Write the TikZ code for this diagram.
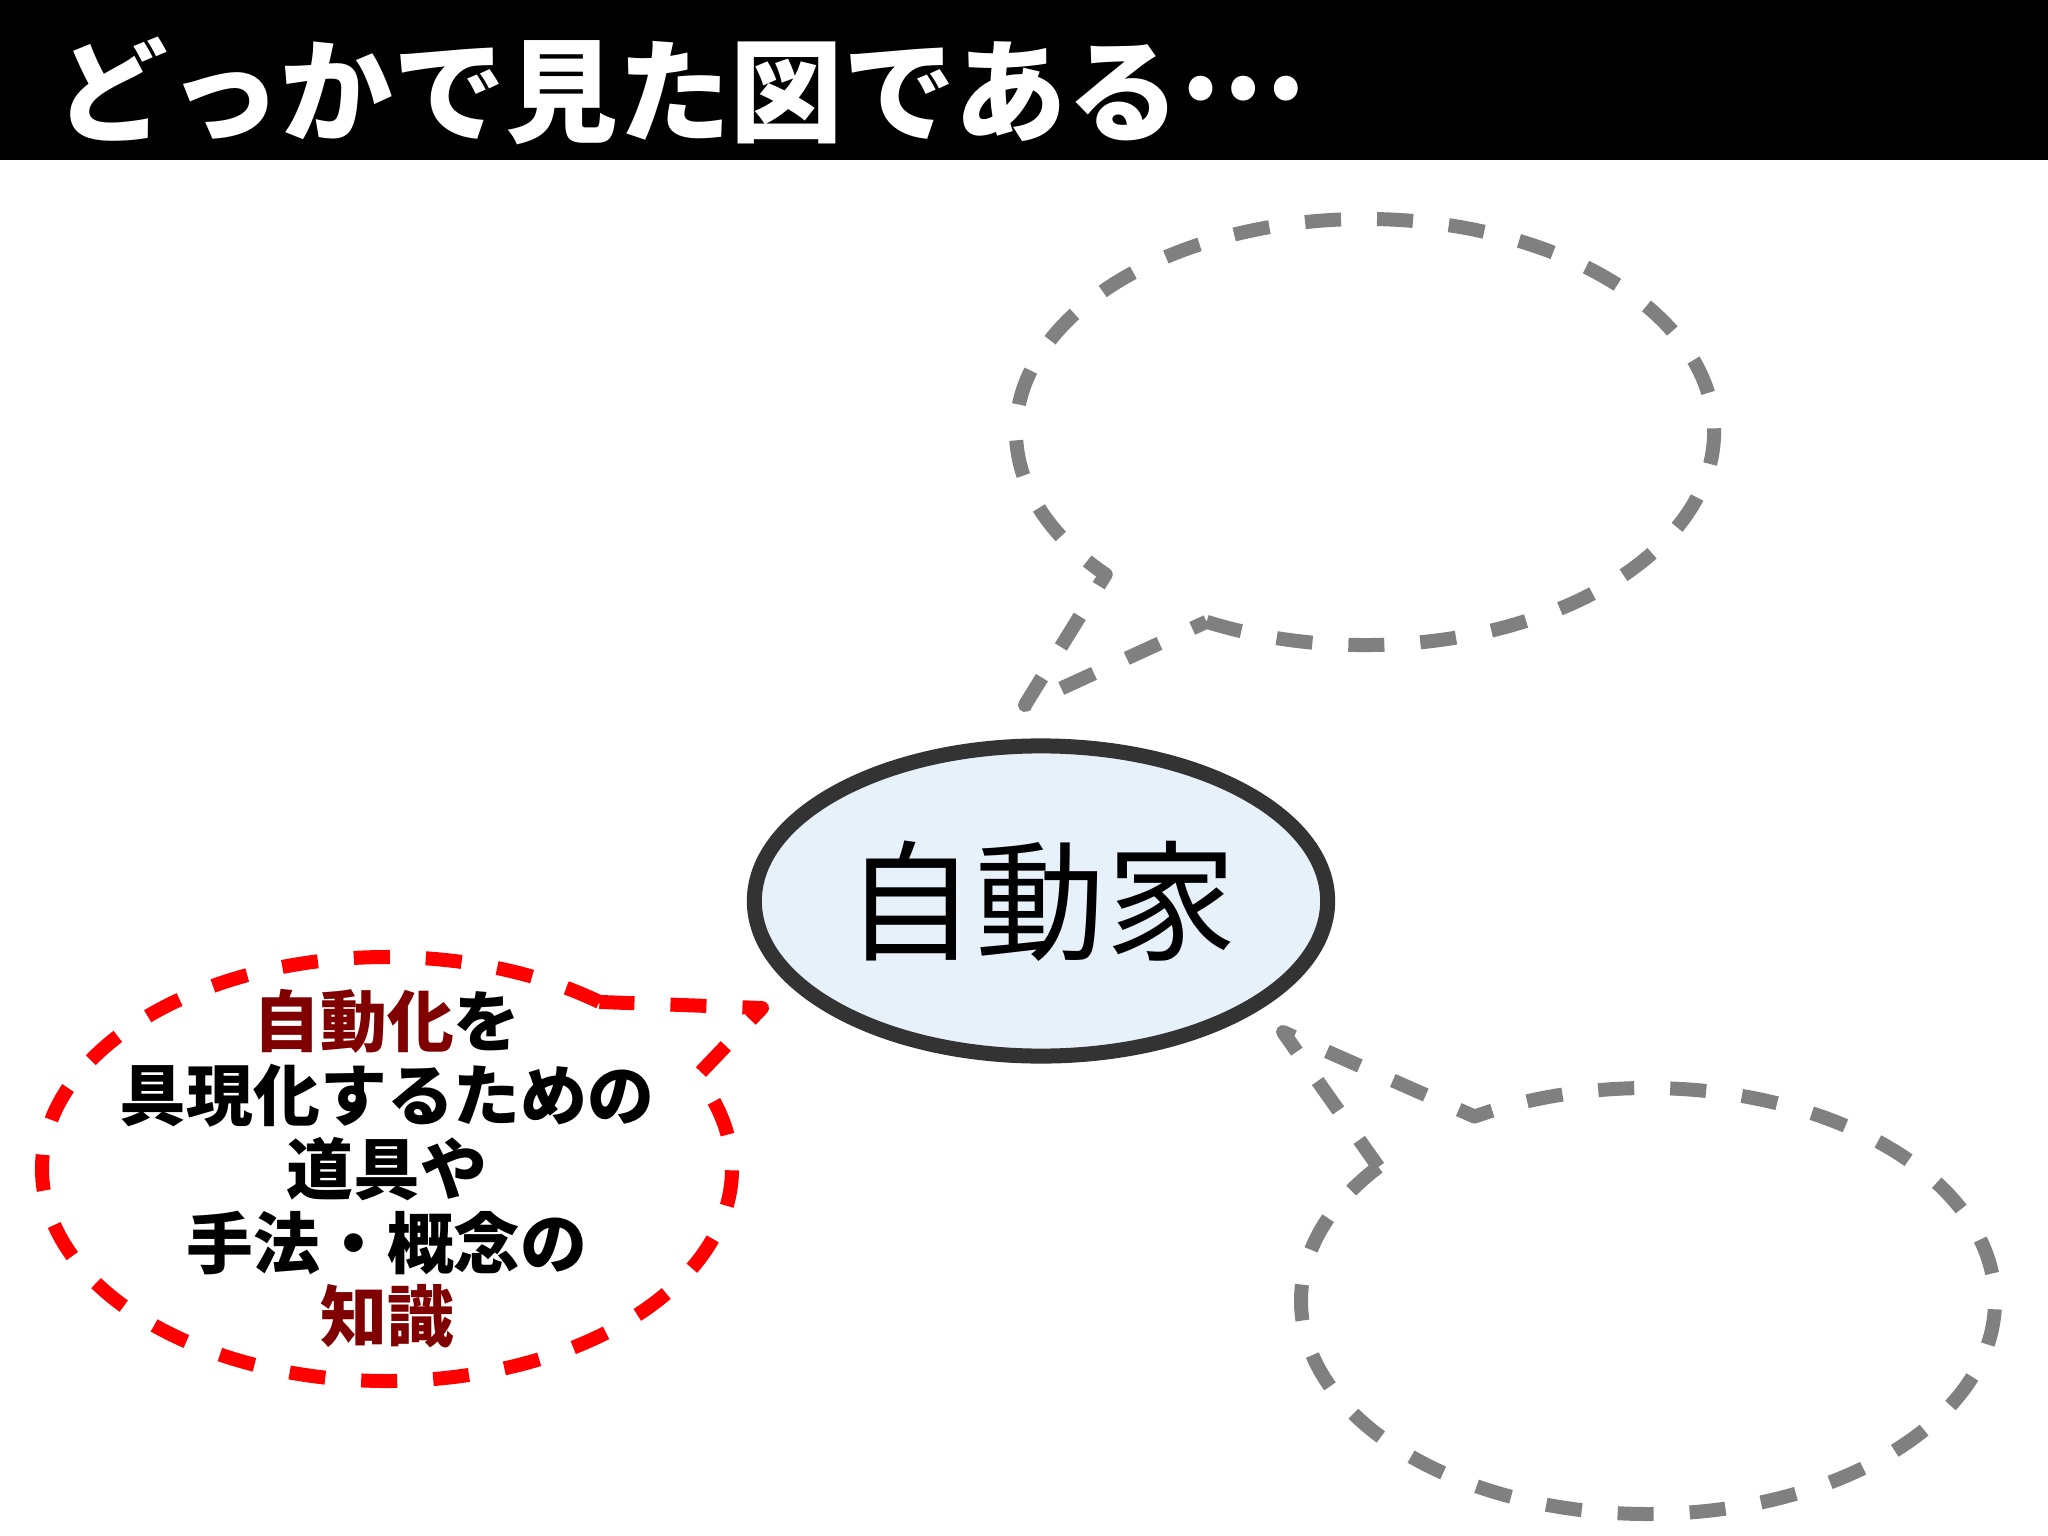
\documentclass[tikz,border=0pt]{standalone}
\usepackage{fontspec}
\usetikzlibrary{shapes.geometric}
\newfontfamily\cjk{Noto Sans CJK JP}
\definecolor{calloutred}{HTML}{FF0000}
\definecolor{calloutgray}{HTML}{808080}
\definecolor{keyline}{HTML}{333333}
\definecolor{keyfill}{HTML}{E6F1F9}
\definecolor{wordred}{HTML}{800000}
\begin{document}
\begin{tikzpicture}[x=0.01cm,y=0.01cm,
	callout/.style={line width=0.14cm,line join=round,dash pattern=on 0.36cm off 0.36cm}]
	\useasboundingbox (0,0) rectangle (2048,1535);% Fixes the page size...

	\fill[black] (0,1375) rectangle (2048,1535);% Title bar
	\node[anchor=west,inner sep=0,text=white,font=\cjk\bfseries\fontsize{32}{32}\selectfont] (Title) at (55,1444) {どっかで見た図である\raisebox{0.3em}{…}};

		\coordinate (UpC)    at (1365,1103);
		\coordinate (UpTip)  at (1025,830);
		\coordinate (LowC)   at (1648,234);
		\coordinate (LowTip) at (1283,503);
		\coordinate (RedC)   at (387,366);
		\coordinate (RedTip) at (762,527);

		\draw[callout,draw=calloutgray] ([shift={(243:349 and 213)}]UpC) arc[start angle=243,end angle=582,x radius=349,y radius=213] -- (UpTip) -- cycle;% Upper callout
		\draw[callout,draw=calloutgray] ([shift={(141:347 and 213)}]LowC) arc[start angle=141,end angle=480,x radius=347,y radius=213] -- (LowTip) -- cycle;% Lower callout
		\draw[callout,draw=calloutred] ([shift={(52:345 and 212)}]RedC) arc[start angle=52,end angle=386,x radius=345,y radius=212] -- (RedTip) -- cycle;% Red callout

	\node[ellipse,draw=keyline,line width=0.15cm,fill=keyfill,minimum width=5.73cm,minimum height=3.10cm,inner sep=0,font=\cjk\fontsize{37}{37}\selectfont] (Key) at (1041,634) {自動家};

	\node[align=center,inner sep=0,font=\cjk\bfseries\fontsize{19}{21}\selectfont] (Knowledge) at (RedC) {\textcolor{wordred}{自動化}を\\具現化するための\\道具や\\手法・概念の\\\textcolor{wordred}{知識}};
\end{tikzpicture}
\end{document}
